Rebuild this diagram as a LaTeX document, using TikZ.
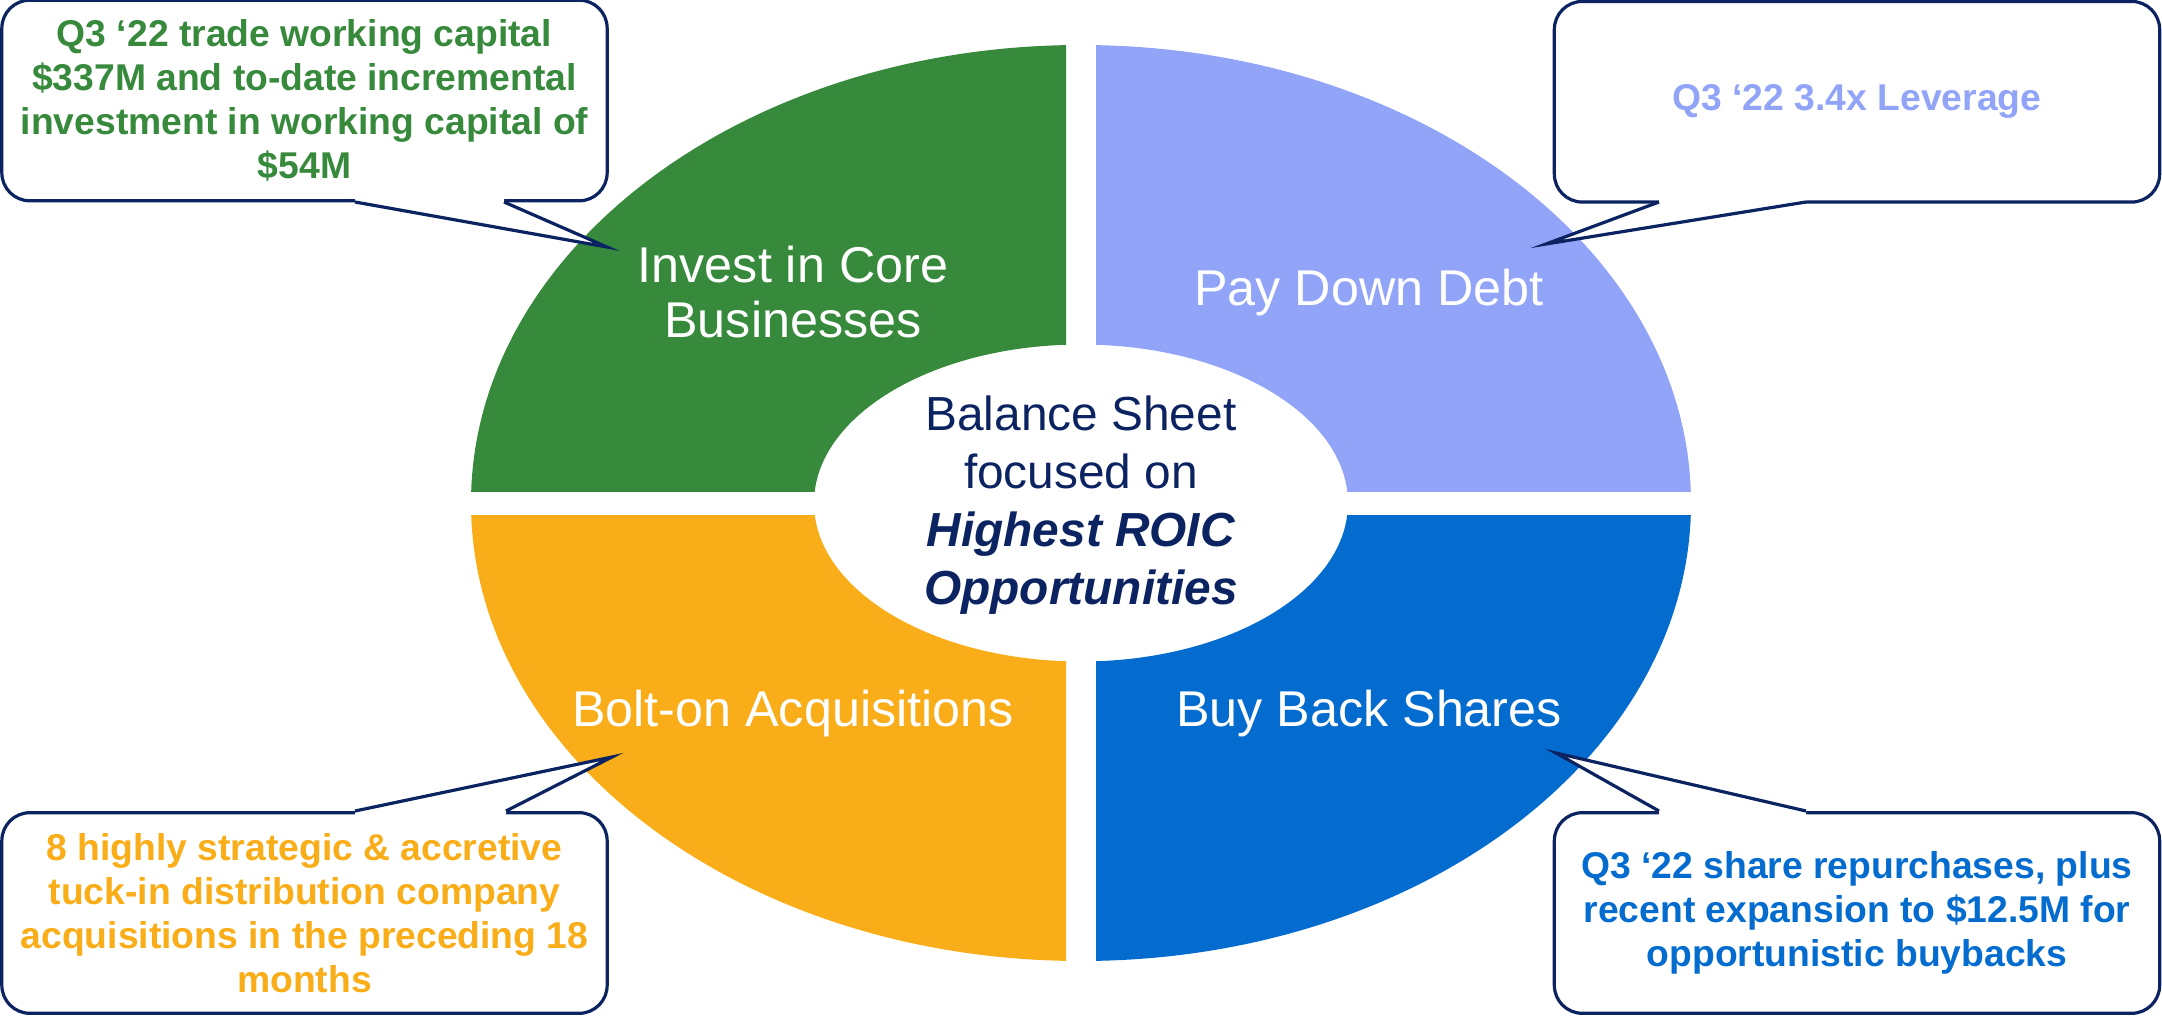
\documentclass[tikz,border=0pt]{standalone}
\usepackage{fontspec}
\setmainfont{Liberation Sans}
\usepackage{xcolor}
\usepackage{tikz}
\definecolor{coregreen}{HTML}{37893C}
\definecolor{debtblue}{HTML}{91A4F8}
\definecolor{boltorange}{HTML}{F9AD18}
\definecolor{sharesblue}{HTML}{046CCE}
\definecolor{sheetnavy}{HTML}{0B2461}

\begin{document}
\begin{tikzpicture}[x=0.01cm,y=-0.01cm,
  quad/.style={fill=#1, even odd rule},
  quadlabel/.style={text=white, align=center, font=\fontsize{14.3}{15.7}\selectfont},
  notebox/.style={draw=sheetnavy, line width=0.032cm, fill=white, rounded corners=0.28cm,
    minimum width=6.05cm, minimum height=2.005cm, inner sep=0pt, align=center,
    text=#1, font=\bfseries\fontsize{10.6}{12.5}\selectfont},
  tail/.style={draw=sheetnavy, line width=0.032cm, miter limit=20}]
  \useasboundingbox (0,0) rectangle (2162,1018);

  \begin{scope}
    \clip (440,20) rectangle (1066,491.7);
    \fill[quad=coregreen] (1081,503) ellipse [x radius=610, y radius=458]
      (1081,503) ellipse [x radius=267, y radius=158.5];
  \end{scope}
  \begin{scope}
    \clip (1096,20) rectangle (1720,491.7);
    \fill[quad=debtblue] (1081,503) ellipse [x radius=610, y radius=458]
      (1081,503) ellipse [x radius=267, y radius=158.5];
  \end{scope}
  \begin{scope}
    \clip (440,515) rectangle (1066,990);
    \fill[quad=boltorange] (1081,503) ellipse [x radius=610, y radius=458]
      (1081,503) ellipse [x radius=267, y radius=158.5];
  \end{scope}
  \begin{scope}
    \clip (1096,515) rectangle (1720,990);
    \fill[quad=sharesblue] (1081,503) ellipse [x radius=610, y radius=458]
      (1081,503) ellipse [x radius=267, y radius=158.5];
  \end{scope}

  \node[quadlabel] (invest) at (793,292) {Invest in Core\\Businesses};
  \node[quadlabel] (paydown) at (1369,292) {Pay Down Debt};
  \node[quadlabel] (bolton) at (793,713) {Bolt-on Acquisitions};
  \node[quadlabel] (buyback) at (1369,713) {Buy Back Shares};

  \node[align=center, text=sheetnavy, font=\fontsize{13.6}{16.5}\selectfont] (sheet) at (1081,505)
    {Balance Sheet\\focused on\\\textbf{\textit{Highest ROIC}}\\\textbf{\textit{Opportunities}}};

  \node[notebox=coregreen] (capnote) at (304.5,100.5)
    {Q3 ‘22 trade working capital\\\$337M and to-date incremental\\investment in working capital of\\\$54M};
  \coordinate (capa) at (355,202);
  \coordinate (capb) at (504,202);
  \coordinate (captip) at (607,247);
  \fill[white] (capa) -- (captip) -- (capb) -- ++(0,-4) -| (capa);
  \draw[tail] (capa) -- (captip) -- (capb);

  \node[notebox=debtblue] (levnote) at (1857,101.75) {Q3 ‘22 3.4x Leverage};
  \coordinate (leva) at (1659,202);
  \coordinate (levb) at (1806,202);
  \coordinate (levtip) at (1546,244);
  \fill[white] (leva) -- (levtip) -- (levb) -- ++(0,-4) -| (leva);
  \draw[tail] (leva) -- (levtip) -- (levb);

  \node[notebox=boltorange] (acqnote) at (304.5,913)
    {8 highly strategic \& accretive\\tuck-in distribution company\\acquisitions in the preceding 18\\months};
  \coordinate (acqa) at (355,811);
  \coordinate (acqb) at (506,811);
  \coordinate (acqtip) at (612,757);
  \fill[white] (acqa) -- (acqtip) -- (acqb) -- ++(0,4) -| (acqa);
  \draw[tail] (acqa) -- (acqtip) -- (acqb);

  \node[notebox=sharesblue] (repnote) at (1857,913)
    {Q3 ‘22 share repurchases, plus\\recent expansion to \$12.5M for\\opportunistic buybacks};
  \coordinate (repa) at (1659,811);
  \coordinate (repb) at (1806,811);
  \coordinate (reptip) at (1556,753);
  \fill[white] (repa) -- (reptip) -- (repb) -- ++(0,4) -| (repa);
  \draw[tail] (repa) -- (reptip) -- (repb);
\end{tikzpicture}
\end{document}
